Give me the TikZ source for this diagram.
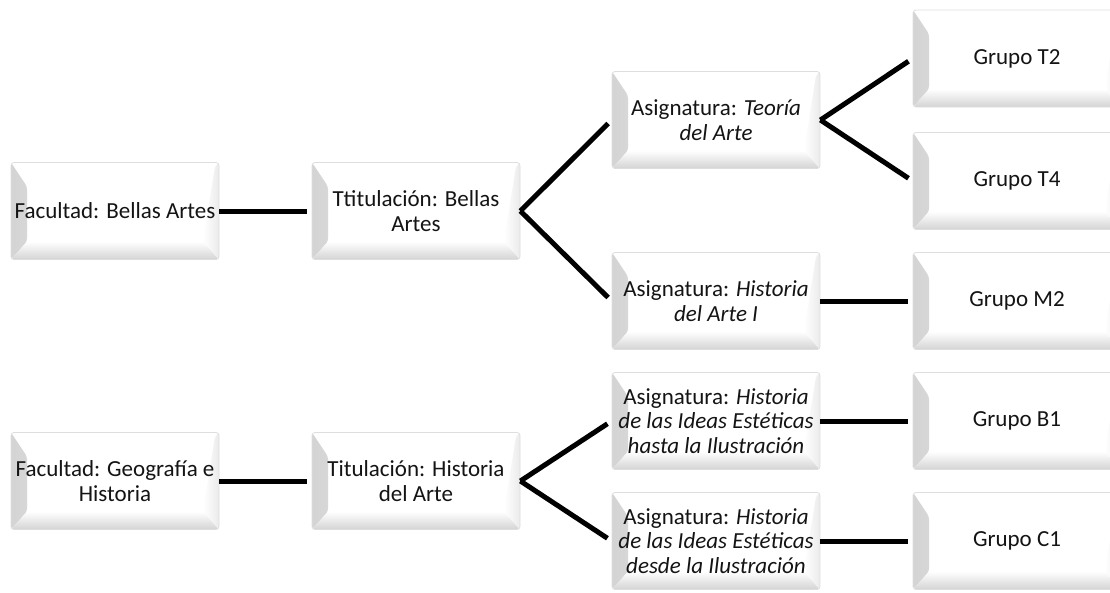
\documentclass[tikz,border=0pt]{standalone}
\usepackage{fontspec}
\setmainfont{Carlito}
\begin{document}
\begin{tikzpicture}[x=1pt,y=-1pt,
  bev/.style={draw=black!13, line width=0.8pt, rounded corners=3pt, fill=white,
    minimum width=208pt, minimum height=97pt, inner sep=0pt, align=center,
    text=black!92, font=\fontsize{23}{24.5}\selectfont,
    path picture={
      \shade[left color=black!17, right color=white]
        (path picture bounding box.south west) -- ++(16pt,18pt)
        -- ([xshift=16pt,yshift=-24pt]path picture bounding box.north west)
        -- (path picture bounding box.north west) -- cycle;
      \shade[top color=white, bottom color=black!17]
        (path picture bounding box.south west) -- ++(16pt,18pt)
        -- ([xshift=-16pt,yshift=18pt]path picture bounding box.south east)
        -- (path picture bounding box.south east) -- cycle;
      \shade[left color=white, right color=black!8]
        (path picture bounding box.south east) -- ++(-16pt,18pt)
        -- ([xshift=-4pt,yshift=-4pt]path picture bounding box.north east)
        -- (path picture bounding box.north east) -- cycle;
    }},
  link/.style={line width=5pt, black, shorten >=5pt}]
\useasboundingbox (0,0) rectangle (1110,592);

\node[bev] (fac1) at (115,211) {Facultad: Bellas Artes};
\node[bev] (tit1) at (416,211) {Ttitulación: Bellas\\Artes};
\node[bev] (asT) at (716,120) {Asignatura: \itshape Teoría\\\itshape del Arte};
\node[bev] (asH) at (716,301) {Asignatura: \itshape Historia\\\itshape del Arte I};
\node[bev] (gT2) at (1017,58.5) {Grupo T2};
\node[bev] (gT4) at (1017,181) {Grupo T4};
\node[bev] (gM2) at (1017,301) {Grupo M2};

\node[bev] (fac2) at (115,481) {Facultad: Geografía e\\Historia};
\node[bev] (tit2) at (416,481) {Titulación: Historia\\del Arte};
\node[bev] (asB) at (716,421) {Asignatura: \itshape Historia\\\itshape de las Ideas Estéticas\\\itshape hasta la Ilustración};
\node[bev] (asC) at (716,541) {Asignatura: \itshape Historia\\\itshape de las Ideas Estéticas\\\itshape desde la Ilustración};
\node[bev] (gB1) at (1017,421) {Grupo B1};
\node[bev] (gC1) at (1017,541) {Grupo C1};

\draw[link] (fac1.east) -- (tit1.west);
\draw[link] (tit1.east) -- (asT.west);
\draw[link] (tit1.east) -- (asH.west);
\draw[link] (asT.east) -- (gT2.west);
\draw[link] (asT.east) -- (gT4.west);
\draw[link] (asH.east) -- (gM2.west);

\draw[link] (fac2.east) -- (tit2.west);
\draw[link] (tit2.east) -- (asB.west);
\draw[link] (tit2.east) -- (asC.west);
\draw[link] (asB.east) -- (gB1.west);
\draw[link] (asC.east) -- (gC1.west);
\end{tikzpicture}
\end{document}
